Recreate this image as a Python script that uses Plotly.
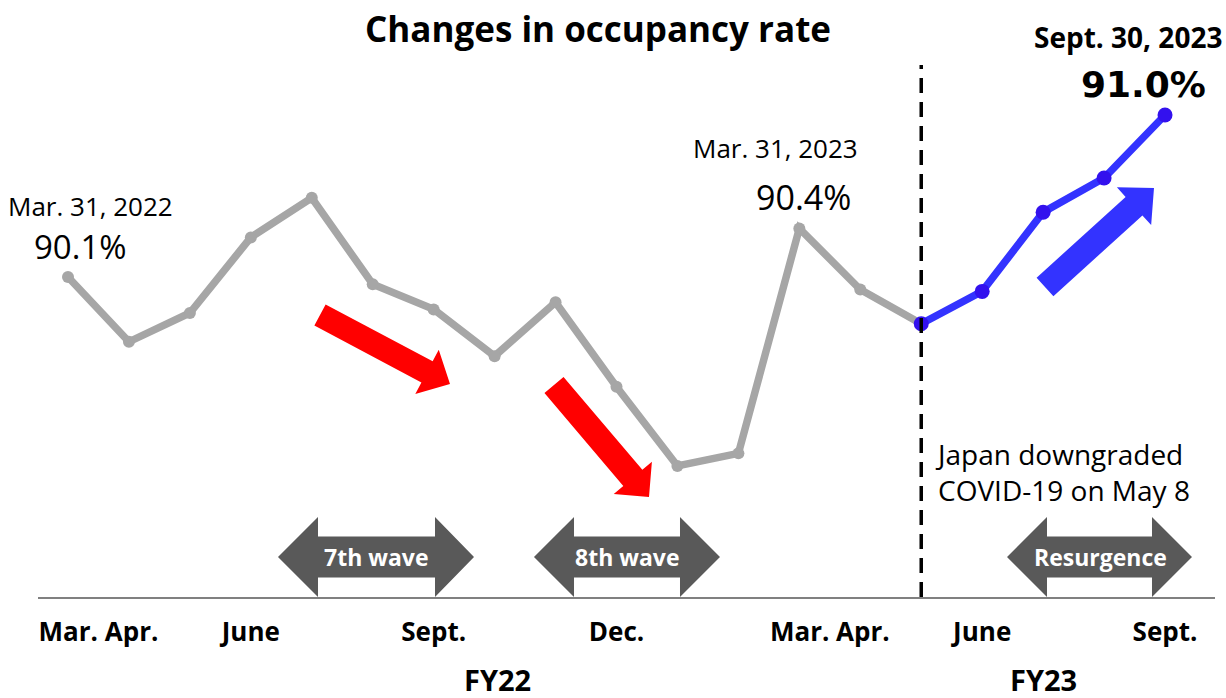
import numpy as np
import plotly.graph_objects as go

# ---------------- data ----------------
months = ["Mar-22", "Apr-22", "May-22", "Jun-22", "Jul-22", "Aug-22", "Sep-22",
          "Oct-22", "Nov-22", "Dec-22", "Jan-23", "Feb-23", "Mar-23", "Apr-23",
          "May-23", "Jun-23", "Jul-23", "Aug-23", "Sep-23"]
fy22_rate = [90.10, 89.74, 89.90, 90.32, 90.54, 90.06, 89.92, 89.66, 89.96,
             89.49, 89.05, 89.12, 90.37, 90.03, 89.84]
fy23_rate = [89.84, 90.02, 90.46, 90.65, 91.00]
tick_pos = [0.5, 3, 6, 9, 12.5, 15, 18]
tick_text = ["Mar. Apr.", "June", "Sept.", "Dec.", "Mar. Apr.", "June", "Sept."]

W, H = 1226, 698
ML, MR, MT, MB = 38, 11, 0, 101
PW, PH = W - ML - MR, H - MT - MB

FONT = "Open Sans"
GRAY = "#a6a6a6"
BLUE = "#3333ff"
DARK = "#595959"

x22 = list(range(len(fy22_rate)))
x23 = list(range(len(fy22_rate) - 1, len(fy22_rate) - 1 + len(fy23_rate)))


def px(x):
    return (x - ML) / PW


def py(y):
    return 1 - (y - MT) / PH


def poly_path(pts):
    s = "M " + " L ".join(f"{px(a):.5f},{py(b):.5f}" for a, b in pts) + " Z"
    return s


def block_arrow(tail, tip, w, hw, hl):
    t = np.array(tail, float)
    p = np.array(tip, float)
    u = (p - t) / np.linalg.norm(p - t)
    n = np.array([-u[1], u[0]])
    b = p - u * hl
    pts = [t + n * w / 2, b + n * w / 2, b + n * hw / 2, p,
           b - n * hw / 2, b - n * w / 2, t - n * w / 2]
    return poly_path([tuple(q) for q in pts])


def double_arrow(L, xl, xr, R, c, hh=40, bh=20.5):
    pts = [(L, c), (xl, c - hh), (xl, c - bh), (xr, c - bh), (xr, c - hh),
           (R, c), (xr, c + hh), (xr, c + bh), (xl, c + bh), (xl, c + hh)]
    return poly_path(pts)


fig = go.Figure()
fig.add_trace(go.Scatter(x=x22, y=fy22_rate, mode="lines+markers",
                         line=dict(color=GRAY, width=7.5),
                         marker=dict(color=GRAY, size=12), hoverinfo="skip",
                         showlegend=False))
fig.add_trace(go.Scatter(x=x23, y=fy23_rate, mode="lines+markers",
                         line=dict(color=BLUE, width=7.5),
                         marker=dict(color="#3311ee", size=15), hoverinfo="skip",
                         showlegend=False))

shapes = []
# dashed divider
shapes.append(dict(type="line", xref="x", yref="paper", x0=14, x1=14,
                   y0=0, y1=py(65), line=dict(color="black", width=3.5, dash="15px,9px"),
                   layer="above"))
# red / blue block arrows
shapes.append(dict(type="path", xref="paper", yref="paper",
                   path=block_arrow((320, 315), (450, 384), 24, 50, 26),
                   fillcolor="#ff0000", line=dict(width=0)))
shapes.append(dict(type="path", xref="paper", yref="paper",
                   path=block_arrow((554, 385), (649, 497), 25, 50, 25),
                   fillcolor="#ff0000", line=dict(width=0)))
shapes.append(dict(type="path", xref="paper", yref="paper",
                   path=block_arrow((1045, 287), (1154, 188), 25, 51, 27),
                   fillcolor=BLUE, line=dict(width=0)))
# wave arrows
for (L, xl, xr, R) in [(278, 318, 435, 474), (534, 574, 680, 720), (1007, 1047, 1152, 1192)]:
    shapes.append(dict(type="path", xref="paper", yref="paper",
                       path=double_arrow(L, xl, xr, R, 557),
                       fillcolor=DARK, line=dict(width=0)))

annotations = []


def ann(text, x, y, size, bold=False, color="black", align="center",
        xanchor="center", family=FONT):
    annotations.append(dict(text=text, xref="paper", yref="paper", x=px(x), y=py(y),
                            xanchor=xanchor, yanchor="middle", showarrow=False,
                            align=align,
                            font=dict(family=family, size=size, color=color,
                                      weight="bold" if bold else "normal")))


ann("Changes in occupancy rate", 598, 28, 35, bold=True)
ann("Mar. 31, 2022", 90, 206, 26)
ann(f"{fy22_rate[0]:.1f}%", 80, 246, 33)
ann("Mar. 31, 2023", 775, 148, 26)
ann(f"{fy22_rate[12]:.1f}%", 803, 197, 34)
ann("Sept. 30, 2023", 1128, 37, 28, bold=True)
ann(f"{fy23_rate[-1]:.1f}%", 1143, 85, 36, bold=True, family="DejaVu Sans")
ann("Japan downgraded<br>COVID-19 on May 8", 933, 472, 28, align="left", xanchor="left")
ann("7th wave", 376, 557, 23, bold=True, color="white")
ann("8th wave", 627, 557, 23, bold=True, color="white")
ann("Resurgence", 1100, 557, 23, bold=True, color="white")
ann("FY22", 497, 679, 29, bold=True)
ann("FY23", 1043, 679, 29, bold=True)

fig.update_layout(
    width=W, height=H,
    margin=dict(l=ML, r=MR, t=MT, b=MB, pad=0),
    paper_bgcolor="white", plot_bgcolor="white",
    shapes=shapes, annotations=annotations,
    xaxis=dict(range=[-0.492, 18.820], showgrid=False, zeroline=False,
               showline=True, linecolor="#808080", linewidth=2,
               tickmode="array", tickvals=tick_pos, ticktext=tick_text,
               ticks="", ticklabelstandoff=11,
               tickfont=dict(family=FONT, size=26, color="black", weight="bold"),
               fixedrange=True),
    yaxis=dict(range=[88.322, 91.639], visible=False, showgrid=False,
               zeroline=False, fixedrange=True),
)

fig.write_html("out.html", config={"displayModeBar": False},
               post_script="document.body.style.margin='0';document.body.style.overflow='hidden';")
